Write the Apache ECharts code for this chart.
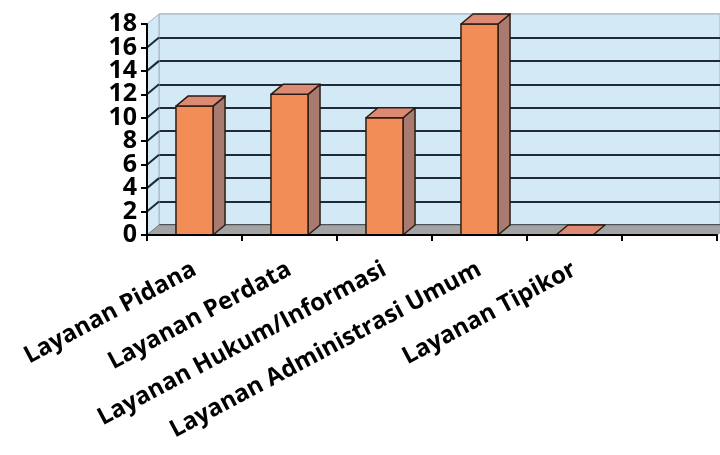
<!DOCTYPE html>
<html>
<head>
<meta charset="utf-8">
<script src="https://cdn.jsdelivr.net/npm/echarts@6/dist/echarts.min.js"></script>
<style>
  html, body { margin: 0; padding: 0; background: #fff; }
  #chart { width: 720px; height: 455px; }
</style>
</head>
<body>
<div id="chart"></div>
<script>
// data
var categories = ["Layanan Pidana", "Layanan Perdata", "Layanan Hukum/Informasi", "Layanan Administrasi Umum", "Layanan Tipikor", ""];
var values = [11, 12, 10, 18, 0];
var yMin = 0;
var yMax = 18;
var yStep = 2;

// 3d depth offset of the back wall
var DX = 12, DY = -10;

var chart = echarts.init(document.getElementById("chart"));

// floor + left side wall
function renderWalls(params, api) {
  var cs = params.coordSys;
  var x0 = cs.x, yb = cs.y + cs.height, yt = cs.y, x1 = cs.x + cs.width;
  var children = [
    {
      type: "polygon",
      shape: { points: [[x0, yt], [x0 + DX, yt + DY], [x0 + DX, yb + DY], [x0, yb]] },
      style: { fill: "#d3eaf6", stroke: "#9fb4c2", lineWidth: 1 }
    },
    {
      type: "polygon",
      shape: { points: [[x0, yb], [x0 + DX, yb + DY], [x1 + DX, yb + DY], [x1, yb]] },
      style: { fill: "#a3a3a3", stroke: "#7d7d7d", lineWidth: 1 }
    }
  ];
  for (var v = yMin + yStep; v < yMax; v += yStep) {
    var p = api.coord([0, v]);
    children.push({
      type: "line",
      shape: { x1: x0, y1: p[1], x2: x0 + DX, y2: p[1] + DY },
      style: { stroke: "#1f2a38", lineWidth: 2 }
    });
  }
  return { type: "group", children: children };
}

function renderBar(params, api) {
  var i = api.value(0), v = api.value(1);
  var top = api.coord([i, v]);
  var base = api.coord([i, 0]);
  var w = api.size([1, 0])[0] * 0.39;
  var l = top[0] - w / 2, r = top[0] + w / 2;
  var t = top[1], b = base[1];
  var edge = { stroke: "#2b1d14", lineWidth: 1.5, lineJoin: "round" };
  var children = [];
  if (b - t > 0.5) {
    children.push({
      type: "polygon",
      shape: { points: [[r, t], [r + DX, t + DY], [r + DX, b + DY], [r, b]] },
      style: Object.assign({ fill: "#a97a70" }, edge)
    });
    children.push({
      type: "rect",
      shape: { x: l, y: t, width: w, height: b - t },
      style: Object.assign({ fill: "#f38d58" }, edge)
    });
  }
  children.push({
    type: "polygon",
    shape: { points: [[l, t], [l + DX, t + DY], [r + DX, t + DY], [r, t]] },
    style: Object.assign({ fill: "#dc8a74" }, edge)
  });
  return { type: "group", children: children };
}

var gridColors = [];
for (var k = 0; k < (yMax - yMin) / yStep; k++) gridColors.push("#1f2a38");
gridColors.push("#b8c8d4");

var yLabelStyle = { color: "#000", fontFamily: "Open Sans", fontWeight: "bold", fontSize: 25 };

// two front axes share the labels (alternate ticks) so none get hidden as overlapping
function yLabels(keepOdd) {
  return Object.assign({
    margin: 10, showMinLabel: true, showMaxLabel: true,
    formatter: function (v) {
      var odd = Math.round((v - yMin) / yStep) % 2 === 1;
      return odd === keepOdd ? String(v) : "";
    }
  }, yLabelStyle);
}

var option = {
  animation: false,
  grid: [
    // front plane
    { left: 147, top: 24, width: 570, height: 211 },
    // back wall
    { left: 147 + DX, top: 24 + DY, width: 570, height: 211, show: true,
      backgroundColor: "#d3eaf6", borderColor: "#9fb4c2", borderWidth: 1 }
  ],
  xAxis: [
    {
      type: "category", gridIndex: 0, data: categories,
      axisLine: { lineStyle: { color: "#000", width: 2 } },
      axisTick: { show: true, length: 6, interval: 0, lineStyle: { color: "#000", width: 2 } },
      axisLabel: {
        interval: 0, rotate: 28, margin: 33, color: "#000",
        fontFamily: "Open Sans", fontWeight: "bold", fontSize: 24
      },
      z: 5
    },
    { type: "category", gridIndex: 1, data: categories, show: false }
  ],
  yAxis: [
    {
      type: "value", gridIndex: 0, min: yMin, max: yMax, interval: yStep, position: "left",
      axisLine: { show: true, lineStyle: { color: "#000", width: 2 } },
      axisTick: { show: true, length: 6, lineStyle: { color: "#000", width: 2 } },
      axisLabel: yLabels(false),
      splitLine: { show: false },
      z: 5
    },
    {
      type: "value", gridIndex: 1, min: yMin, max: yMax, interval: yStep,
      axisLine: { show: false }, axisTick: { show: false }, axisLabel: { show: false },
      splitLine: { show: true, lineStyle: { color: gridColors, width: 2 } }
    },
    {
      type: "value", gridIndex: 0, min: yMin, max: yMax, interval: yStep, position: "left", offset: 0,
      axisLine: { show: false }, axisTick: { show: false },
      axisLabel: yLabels(true),
      splitLine: { show: false },
      z: 5
    }
  ],
  series: [
    {
      type: "custom", xAxisIndex: 0, yAxisIndex: 0, z: 1,
      renderItem: renderWalls, data: [[0, 0]], silent: true
    },
    {
      type: "custom", xAxisIndex: 0, yAxisIndex: 0, z: 3,
      renderItem: renderBar,
      data: values.map(function (v, i) { return [i, v]; })
    }
  ]
};

chart.setOption(option);
</script>
</body>
</html>
